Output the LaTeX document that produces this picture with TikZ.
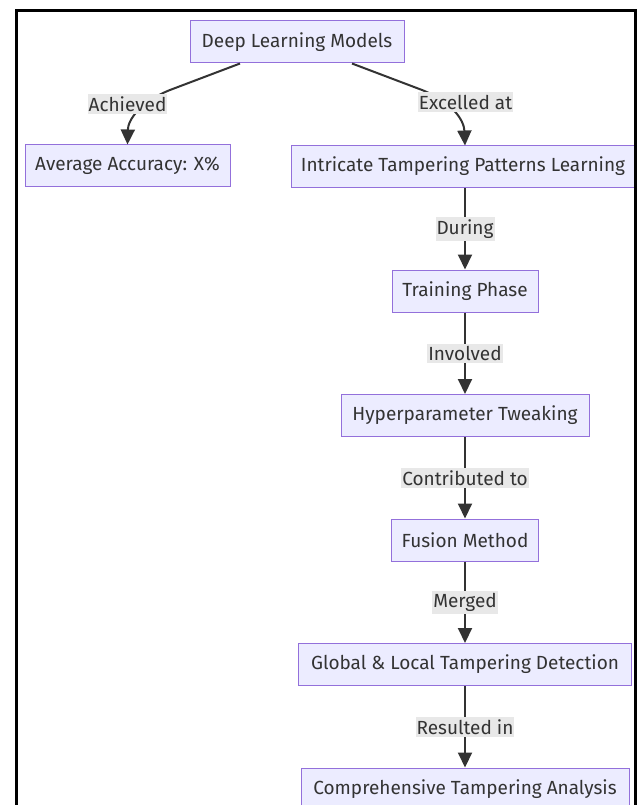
\documentclass[tikz,border=0pt]{standalone}
\usepackage{fontspec}
\setmainfont{Fira Sans}
\usetikzlibrary{arrows.meta,calc}

\definecolor{boxfill}{HTML}{ECECFF}
\definecolor{boxline}{HTML}{9370DB}
\definecolor{ink}{HTML}{333333}
\definecolor{lblfill}{HTML}{E8E8E8}

\tikzset{
  flowbox/.style={draw=boxline, line width=1pt, fill=boxfill, text=ink,
    minimum height=42pt, inner sep=0pt, font=\fontsize{19}{22}\selectfont},
  edgelbl/.style={fill=lblfill, text=ink, inner xsep=1pt, inner ysep=2.5pt,
    font=\fontsize{19}{22}\selectfont},
  edge/.style={draw=ink, line width=2pt,
    -{Triangle[length=15pt,width=14pt]}},
}

\begin{document}
\begin{tikzpicture}[x=1pt,y=-1pt]
  \useasboundingbox (0,0) rectangle (640,805);
  \clip (0,0) rectangle (640,805);
  \fill[white] (0,0) rectangle (640,805);

  % nodes
  \node[flowbox, minimum width=214pt] (dlm)  at (297,42)    {Deep Learning Models};
  \node[flowbox, minimum width=205pt] (aa)   at (127.5,166) {Average Accuracy: X\%};
  \node[flowbox, minimum width=344pt] (itpl) at (463,166.5) {Intricate Tampering Patterns Learning};
  \node[flowbox, minimum width=146pt] (tp)   at (465,291)   {Training Phase};
  \node[flowbox, minimum width=248pt] (ht)   at (465,415.5) {Hyperparameter Tweaking};
  \node[flowbox, minimum width=147pt] (fm)   at (465,540)   {Fusion Method};
  \node[flowbox, minimum width=333pt] (gltd) at (465,664.5) {Global \& Local Tampering Detection};
  \node[flowbox, minimum width=328pt] (cta)  at (465,789)   {Comprehensive Tampering Analysis};

  % branching connectors from the top node
  \coordinate (dlmL) at ($(dlm.south)+(-57,0)$);
  \coordinate (dlmR) at ($(dlm.south)+(55,0)$);
  \coordinate (bendL) at (170,90);
  \coordinate (bendR) at (422,90);

  \draw[edge] (dlmL) -- (bendL) .. controls (140,102) and (128,120) .. (aa.north);
  \draw[edge] (dlmR) -- (bendR) .. controls (452,102) and (464,120) .. (465,145.5);

  \node[edgelbl] (lachieved) at (127.5,104) {Achieved};
  \node[edgelbl] (lexcelled) at (465.5,102) {Excelled at};

  % straight chain down the right column
  \draw[edge] (tp.north |- itpl.south) -- node[edgelbl] (lduring) {During} (tp.north);
  \draw[edge] (tp.south) -- node[edgelbl] (linvolved) {Involved} (ht.north);
  \draw[edge] (ht.south) -- node[edgelbl] (lcontrib) {Contributed to} (fm.north);
  \draw[edge] (fm.south) -- node[edgelbl] (lmerged) {Merged} (gltd.north);
  \draw[edge] (gltd.south) -- node[edgelbl] (lresulted) {Resulted in} (cta.north);

  % outer frame, open at the bottom
  \draw[black, line width=3pt] (16,820) -- (16,11) -- (635,11) -- (635,820);
\end{tikzpicture}
\end{document}
